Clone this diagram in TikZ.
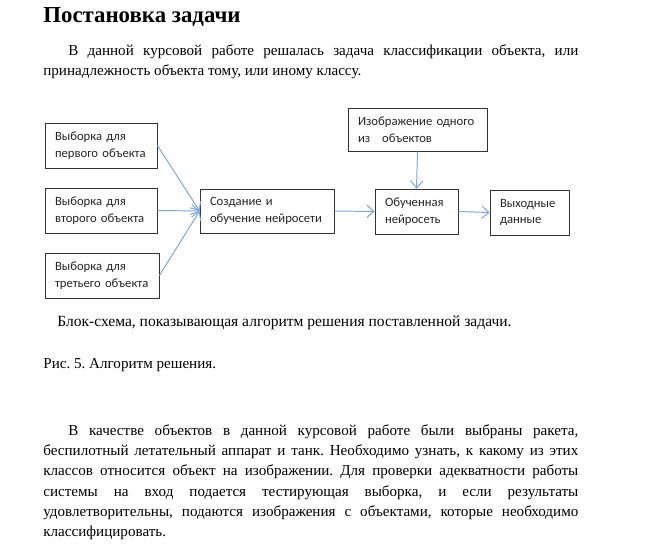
\documentclass[tikz,border=0pt]{standalone}
\usepackage{fontspec}
\setmainfont{Liberation Serif}
\newfontfamily\boxfont{Carlito}
\usetikzlibrary{arrows.meta}
\definecolor{arrowblue}{HTML}{7BA7DA}
\newdimen\pxu \pxu=0.02cm
\frenchspacing

\tikzset{
  blk/.style={draw=black!80, line width=0.45pt, fill=white, text=black!85,
    font=\boxfont\fontsize{7.2}{9.6}\selectfont, align=left,
    inner xsep=10\pxu, inner ysep=0pt, minimum height=45\pxu},
  flow/.style={color=arrowblue, line width=0.55pt,
    -{Straight Barb[length=4pt,width=7pt]}},
  para/.style={anchor=base west, inner sep=0pt, text width=535\pxu,
    align=justify, font=\fontsize{8.6}{11.6}\selectfont},
}

\begin{document}
\begin{tikzpicture}[x=0.02cm, y=-0.02cm]
  \fill[white] (0,0) rectangle (666,545);
  \useasboundingbox (0,0) rectangle (666,545);

  % heading and first paragraph
  \node[anchor=base west, inner sep=0pt, font=\bfseries\fontsize{13}{15}\selectfont]
    (title) at (43,22) {Постановка задачи};
  \node[para] (intro) at (43,55) {\hspace*{25\pxu}В данной курсовой работе решалась задача
    классификации объекта, или\linebreak принадлежность объекта тому, или иному классу.};

  % block scheme
  \node[blk, text width=92\pxu] (set1) at (101,145.5) {Выборка для\\первого объекта};
  \node[blk, text width=92\pxu] (set2) at (101,210.5) {Выборка для\\второго объекта};
  \node[blk, text width=94\pxu] (set3) at (102,275.5) {Выборка для\\третьего объекта};
  \node[blk, text width=114\pxu, minimum height=44\pxu] (train) at (267,211)
    {Создание и\\обучение нейросети};
  \node[blk, text width=119\pxu, minimum height=43\pxu] (img) at (417.5,129.5)
    {Изображение одного\\из\hspace{12\pxu}объектов};
  \node[blk, text width=63\pxu] (net) at (416.5,211.5) {Обученная\\нейросеть};
  \node[blk, text width=59\pxu] (out) at (529.5,212.5) {Выходные\\данные};

  \draw[flow] (set1.east) -- (train.west);
  \draw[flow] (set2.east) -- (train.west);
  \draw[flow] (set3.east) -- (train.west);
  \draw[flow] (train.east) -- (net.west);
  \draw[flow] (img.south) -- (net.north);
  \draw[flow] (net.east) -- (out.west);

  % caption
  \node[anchor=base west, inner sep=0pt, font=\fontsize{8.85}{11.6}\selectfont]
    (note) at (57,326) {Блок-схема, показывающая алгоритм решения поставленной задачи.};
  \node[anchor=base west, inner sep=0pt, font=\fontsize{8.6}{11.6}\selectfont]
    (fig) at (43,368) {Рис. 5. Алгоритм решения.};

  % second paragraph
  \node[para] (objects) at (43,435) {\hspace*{25\pxu}В качестве объектов в данной курсовой
    работе были выбраны ракета,\linebreak беспилотный летательный аппарат и танк. Необходимо
    узнать, к какому из этих\linebreak классов относится объект на изображении. Для проверки
    адекватности работы\linebreak системы на вход подается тестирующая выборка, и если
    результаты\linebreak удовлетворительны, подаются изображения с объектами, которые
    необходимо\linebreak классифицировать.};
\end{tikzpicture}
\end{document}
